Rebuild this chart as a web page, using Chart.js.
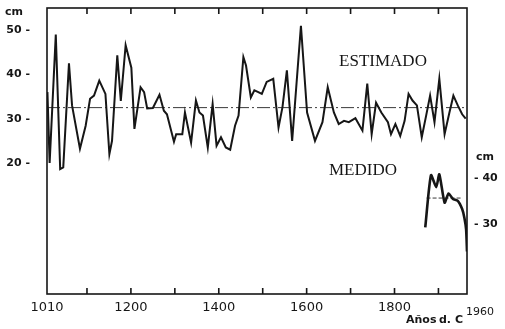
<!DOCTYPE html>
<html>
<head>
<meta charset="utf-8">
<script src="https://cdn.jsdelivr.net/npm/chart.js@4"></script>
<style>
  html, body { margin: 0; padding: 0; background: #fff; }
  #wrap { width: 505px; height: 329px; }
</style>
</head>
<body>
<div id="wrap"><canvas id="grafico"></canvas></div>
<script>
// estimado (eje izquierdo, cm)
const estYears = [1010, 1015, 1029, 1039, 1046, 1059, 1066, 1084, 1097, 1107, 1116, 1128, 1142, 1151, 1157,
  1169, 1177, 1188, 1201, 1208, 1222, 1230, 1237, 1250, 1265, 1275, 1282, 1298, 1303, 1317, 1323, 1337,
  1348, 1356, 1364, 1375, 1386, 1395, 1405, 1416, 1426, 1437, 1445, 1456, 1462, 1473, 1481, 1490, 1498,
  1509, 1524, 1536, 1545, 1555, 1567, 1587, 1601, 1619, 1636, 1648, 1662, 1673, 1685, 1696, 1711, 1727,
  1738, 1748, 1758, 1770, 1785, 1792, 1802, 1813, 1823, 1832, 1841, 1851, 1862, 1872, 1881, 1891, 1902,
  1914, 1925, 1934, 1944, 1954, 1962];
const estCm = [36, 20, 49, 18.6, 19, 42.5, 33, 23.2, 28.4, 34.5, 35.2, 38.6, 35.6, 22, 25,
  44.3, 34, 46.6, 41.5, 27.7, 37.1, 36, 32.3, 32.4, 35.4, 31.8, 31, 24.8, 26.5, 26.5, 31.4, 24.6,
  34.1, 31.4, 30.7, 23.5, 33.3, 23.9, 25.8, 23.5, 23, 28.4, 30.7, 43.9, 42, 34.8, 36.4, 36, 35.6,
  38.3, 39, 28, 32.6, 40.9, 25, 51, 31.4, 25, 29.2, 37.1, 31.4, 28.8, 29.5, 29.2, 30.1, 27.3,
  37.9, 26.5, 33.6, 31.4, 29.2, 26.5, 28.8, 26.1, 29.5, 35.6, 34.1, 33, 25.8, 30.7, 35.2, 29.2, 39,
  26.5, 31.4, 35.2, 33, 31, 30];
const estMeanYears = [1009, 1965];
const estMean = [32.5, 32.5];

// medido (eje derecho, cm)
const medYears = [1870, 1883, 1895, 1902, 1914, 1923, 1933, 1944, 1954, 1959, 1963, 1965];
const medCm = [29.3, 40.7, 38.1, 40.9, 34.7, 36.7, 35.5, 35.1, 33.3, 31.4, 28.8, 24];
const medMeanYears = [1873, 1955];
const medMean = [35.7, 35.7];

// ejes
const xLabelYears = [1009, 1200, 1400, 1600, 1800];
const innerTickYears = [1100, 1200, 1300, 1400, 1500, 1600, 1700, 1800, 1900];
const leftTicks = [20, 30, 40, 50];
const rightTicks = [30, 40];

const pts = (xs, ys) => xs.map((x, i) => ({ x: x, y: ys[i] }));
const tinta = '#161616';

// sin relleno extra: el area del grafico queda fija
const sinPadding = s => { s.paddingTop = 0; s.paddingBottom = 0; s.paddingLeft = 0; s.paddingRight = 0; };

const extras = {
  id: 'extras',
  afterDraw(chart) {
    const { ctx, chartArea: a, scales: { x } } = chart;
    ctx.save();
    ctx.strokeStyle = tinta;
    ctx.lineWidth = 1.6;
    ctx.strokeRect(a.left, a.top, a.right - a.left, a.bottom - a.top);
    ctx.beginPath();
    innerTickYears.forEach(v => {
      const px = x.getPixelForValue(v);
      ctx.moveTo(px, a.bottom); ctx.lineTo(px, a.bottom - 6);
      ctx.moveTo(px, a.top); ctx.lineTo(px, a.top + 6);
    });
    ctx.stroke();

    ctx.fillStyle = tinta;
    ctx.textAlign = 'center';
    ctx.textBaseline = 'middle';
    ctx.font = '17px "Liberation Serif"';
    ctx.fillText('ESTIMADO', 383, 62);
    ctx.fillText('MEDIDO', 363, 171);

    ctx.font = 'bold 11px "DejaVu Sans"';
    ctx.fillText('cm', 14, 12);
    ctx.fillText('cm', 485, 157);
    ctx.font = '11px "DejaVu Sans"';
    ctx.fillText('1960', 480, 312);
    ctx.font = 'bold 11px "DejaVu Sans"';
    ctx.textAlign = 'left';
    ctx.fillText('Años', 406, 320);
    ctx.fillText('d. C', 439, 320);
    ctx.restore();
  }
};

new Chart(document.getElementById('grafico'), {
  type: 'line',
  data: {
    datasets: [
      { label: 'Estimado', data: pts(estYears, estCm), yAxisID: 'y',
        borderColor: tinta, borderWidth: 2, pointRadius: 0, tension: 0 },
      { label: 'Media estimado', data: pts(estMeanYears, estMean), yAxisID: 'y',
        borderColor: '#3a3a3a', borderWidth: 1, borderDash: [13, 3, 2, 3], pointRadius: 0 },
      { label: 'Medido', data: pts(medYears, medCm), yAxisID: 'y2',
        borderColor: tinta, borderWidth: 2.6, pointRadius: 0, tension: 0.2 },
      { label: 'Media medido', data: pts(medMeanYears, medMean), yAxisID: 'y2',
        borderColor: '#3a3a3a', borderWidth: 1, borderDash: [4, 2], pointRadius: 0 }
    ]
  },
  options: {
    responsive: true,
    maintainAspectRatio: false,
    animation: false,
    layout: { padding: { top: 8, left: 0, right: 0, bottom: 0 } },
    plugins: { legend: { display: false }, tooltip: { enabled: false } },
    scales: {
      x: {
        type: 'linear', min: 1009, max: 1965,
        afterFit: s => { s.height = 35; sinPadding(s); },
        afterBuildTicks: s => { s.ticks = xLabelYears.map(v => ({ value: v })); },
        grid: { display: false, drawTicks: false }, border: { display: false },
        ticks: {
          maxRotation: 0, autoSkip: false, padding: 6, color: tinta,
          font: { family: 'DejaVu Sans', size: 13 },
          callback: v => (v === 1009 ? '1010' : String(v))
        }
      },
      y: {
        position: 'left', min: -9.6, max: 55,
        afterFit: s => { s.width = 47; sinPadding(s); },
        afterBuildTicks: s => { s.ticks = leftTicks.map(v => ({ value: v })); },
        grid: { display: false, drawTicks: false }, border: { display: false },
        ticks: {
          padding: 17, color: tinta,
          font: { family: 'DejaVu Sans', size: 11, weight: 'bold' },
          callback: v => v + ' -'
        }
      },
      y2: {
        position: 'right', min: 14.7, max: 77.3,
        afterFit: s => { s.width = 38; sinPadding(s); },
        afterBuildTicks: s => { s.ticks = rightTicks.map(v => ({ value: v })); },
        grid: { display: false, drawTicks: false }, border: { display: false },
        ticks: {
          padding: 7, color: tinta,
          font: { family: 'DejaVu Sans', size: 11, weight: 'bold' },
          callback: v => '- ' + v
        }
      }
    }
  },
  plugins: [extras]
});
</script>
</body>
</html>
